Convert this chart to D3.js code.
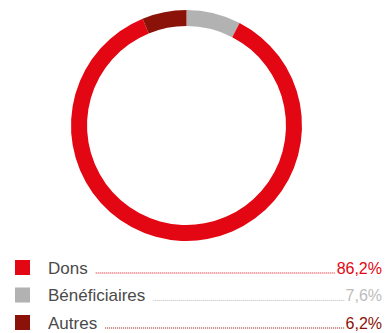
<!DOCTYPE html>
<html><head><meta charset="utf-8">
<script src="https://cdn.jsdelivr.net/npm/d3@7"></script>
<style>body{margin:0;background:#fff}svg{display:block}</style>
</head><body>
<svg id="c" width="385" height="333"></svg>
<script>
const categories = ["Dons", "Bénéficiaires", "Autres"];
const values = [86.2, 7.6, 6.2];
const valueLabels = ["86,2%", "7,6%", "6,2%"];
const pieOrder = ["Bénéficiaires", "Dons", "Autres"];
const colors = {"Dons": "#e30613", "Bénéficiaires": "#b2b2b2", "Autres": "#8b1208"};
const textColors = {"Dons": "#e30613", "Bénéficiaires": "#bdbdbd", "Autres": "#8b1208"};

const svg = d3.select("#c");
const cx = 186.5, cy = 125.5, rOuter = 115.5, rInner = 99.5;
const pieData = pieOrder.map(k => ({key: k, value: values[categories.indexOf(k)]}));
const pie = d3.pie().sort(null).value(d => d.value);
const arc = d3.arc().innerRadius(rInner).outerRadius(rOuter);
svg.append("g").attr("transform", `translate(${cx},${cy})`)
  .selectAll("path").data(pie(pieData)).join("path")
  .attr("d", arc).attr("fill", d => colors[d.data.key]);

const y = d3.scalePoint().domain(categories).range([267.5, 322.5]);
const leg = svg.append("g");
categories.forEach((c, i) => {
  const yc = y(c);
  leg.append("rect").attr("x", 15).attr("y", yc - 7.5).attr("width", 15).attr("height", 15).attr("fill", colors[c]);
  const t = leg.append("text").attr("x", 48).attr("y", yc + 6)
    .attr("font-family", "Liberation Sans, Arial, sans-serif").attr("font-size", 17)
    .attr("fill", "#4a4a4a").text(c);
  const v = leg.append("text").attr("x", 382).attr("y", yc + 6).attr("text-anchor", "end")
    .attr("font-family", "Liberation Sans, Arial, sans-serif").attr("font-size", 16)
    .attr("fill", textColors[c]).text(valueLabels[i]);
  const tEnd = t.node().getComputedTextLength() + 48;
  const vStart = 382 - v.node().getComputedTextLength();
  leg.append("line").attr("x1", tEnd + 8).attr("x2", vStart - 1)
    .attr("y1", yc + 5.5).attr("y2", yc + 5.5)
    .attr("stroke", textColors[c]).attr("stroke-width", 1).attr("stroke-dasharray", "1,1");
});
</script>
</body></html>
